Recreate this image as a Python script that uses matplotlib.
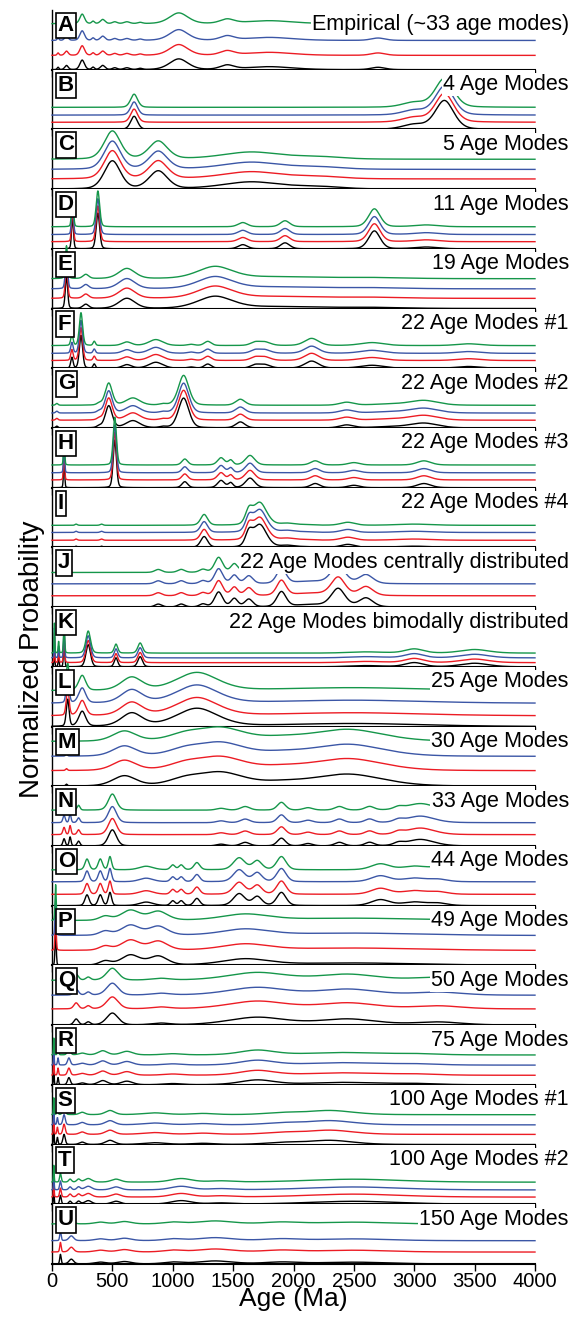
import numpy as np
import matplotlib
matplotlib.use('Agg')
import matplotlib.pyplot as plt

plt.rcParams['font.family'] = ['Liberation Sans', 'DejaVu Sans']

AGE_MAX = 4000
COLORS = ['black', '#ec1c24', '#3b56a6', '#15964a']  # black, red, blue, green

LETTERS = list("ABCDEFGHIJKLMNOPQRSTU")
TITLES = ["Empirical (~33 age modes)", "4 Age Modes", "5 Age Modes", "11 Age Modes",
          "19 Age Modes", "22 Age Modes #1", "22 Age Modes #2", "22 Age Modes #3",
          "22 Age Modes #4", "22 Age Modes centrally distributed",
          "22 Age Modes bimodally distributed", "25 Age Modes", "30 Age Modes",
          "33 Age Modes", "44 Age Modes", "49 Age Modes", "50 Age Modes",
          "75 Age Modes", "100 Age Modes #1", "100 Age Modes #2", "150 Age Modes"]

# vertical offsets (fraction of panel height) of black, red, blue, green curves
OFFSETS = [[0, .24, .49, .77], [0, .12, .24, .37], [0, .17, .33, .50], [0, .12, .24, .37],
           [0, .17, .33, .50], [0, .13, .25, .38], [0, .13, .25, .38], [0, .13, .25, .38],
           [0, .12, .25, .37], [0, .19, .39, .58], [0, .07, .15, .23], [0, .18, .39, .60],
           [0, .26, .50, .75], [0, .19, .39, .60], [0, .19, .40, .60], [0, .25, .50, .75],
           [0, .27, .50, .75], [0, .16, .33, .50], [0, .17, .33, .50], [0, .12, .24, .37],
           [0, .20, .39, .67]]

# age modes: (age Ma, width Ma, peak height as fraction of panel)
MODES_A = [(50, 8, .04), (120, 15, .07), (250, 20, .16), (340, 12, .04), (420, 20, .07),
           (520, 20, .03), (620, 25, .03), (730, 20, .02), (1050, 80, .18), (1450, 60, .07),
           (1800, 200, .05), (2700, 60, .04)]
MODES_B = [(680, 30, .22), (3000, 100, .08), (3250, 80, .48)]
MODES_C = [(500, 70, .47), (880, 80, .30), (1650, 250, .12), (2200, 200, .04)]
MODES_D = [(170, 8, .55), (380, 15, .60), (1580, 40, .07), (1930, 40, .10), (2670, 50, .30),
           (3100, 100, .03)]
MODES_E = [(120, 10, .55), (280, 25, .07), (620, 70, .17), (1350, 150, .20), (1850, 300, .03),
           (2600, 300, .02)]
MODES_F = [(165, 10, .18), (240, 14, .55), (350, 10, .07), (620, 40, .06), (860, 60, .10),
           (1150, 30, .02), (1290, 30, .07), (1680, 40, .05), (1760, 50, .06), (2150, 60, .12),
           (2650, 100, .05), (3450, 100, .03)]
MODES_G = [(40, 10, .03), (390, 20, .03), (470, 30, .37), (670, 60, .12), (920, 30, .02),
           (1090, 45, .50), (1560, 40, .10), (2440, 60, .05), (2800, 150, .02), (3080, 120, .08)]
MODES_H = [(100, 5, .50), (520, 14, .80), (1100, 25, .10), (1400, 30, .12), (1480, 20, .08),
           (1640, 40, .16), (2180, 40, .07), (2500, 50, .04), (3080, 60, .07)]
MODES_I = [(200, 10, .02), (410, 12, .02), (1260, 30, .18), (1630, 30, .20), (1720, 60, .38),
           (1950, 60, .03), (2100, 60, .01), (2450, 60, .05), (3000, 150, .02)]
MODES_J = [(880, 30, .05), (1070, 30, .05), (1250, 30, .05), (1380, 35, .25), (1510, 30, .14),
           (1630, 35, .13), (1900, 40, .25), (2150, 150, .04), (2370, 60, .30), (2600, 60, .15)]
MODES_K = [(20, 3, .50), (55, 4, .20), (100, 5, .50), (300, 20, .37), (530, 15, .15),
           (730, 20, .17), (2600, 150, .02), (3000, 80, .07), (3500, 120, .06)]
MODES_L = [(130, 12, .45), (250, 30, .25), (660, 90, .22), (1200, 180, .30), (2500, 600, .05)]
MODES_M = [(120, 8, .03), (600, 100, .17), (1100, 150, .10), (1400, 200, .22), (1900, 200, .05),
           (2450, 300, .20)]
MODES_N = [(100, 10, .12), (150, 8, .15), (220, 12, .08), (500, 35, .27), (1400, 40, .03),
           (1600, 40, .06), (1900, 35, .13), (2120, 40, .04), (2380, 40, .06), (2630, 40, .06),
           (2870, 40, .04), (3050, 120, .11)]
MODES_O = [(290, 18, .18), (400, 18, .18), (480, 14, .22), (780, 60, .06), (1000, 20, .08),
           (1070, 20, .08), (1200, 25, .12), (1550, 50, .20), (1700, 40, .15), (1900, 40, .22),
           (2720, 80, .10), (3000, 100, .06), (3200, 80, .04)]
MODES_P = [(30, 5, .60), (440, 50, .07), (650, 80, .17), (880, 80, .15), (1600, 200, .10),
           (2500, 600, .04)]
MODES_Q = [(200, 20, .10), (300, 20, .05), (500, 50, .20), (900, 80, .03), (1700, 250, .13),
           (2450, 250, .10), (3200, 200, .05)]
MODES_R = [(15, 3, .30), (50, 5, .12), (140, 12, .12), (250, 30, .03), (420, 40, .07),
           (620, 50, .06), (1000, 80, .02), (1700, 150, .08), (2400, 300, .04), (3000, 200, .02)]
MODES_S = [(15, 3, .30), (45, 5, .12), (100, 10, .17), (250, 25, .04), (480, 40, .07),
           (850, 100, .03), (1250, 100, .02), (1900, 150, .03), (2300, 200, .07)]
MODES_T = [(15, 3, .30), (70, 7, .15), (150, 12, .05), (220, 15, .05), (300, 30, .06),
           (530, 40, .05), (1070, 90, .06), (1400, 100, .02), (2500, 400, .05)]
MODES_U = [(70, 6, .16), (160, 20, .08), (400, 50, .03), (600, 60, .04), (1000, 80, .03),
           (1350, 150, .05), (1900, 150, .03), (2500, 300, .03)]

MODES = [MODES_A, MODES_B, MODES_C, MODES_D, MODES_E, MODES_F, MODES_G, MODES_H, MODES_I,
         MODES_J, MODES_K, MODES_L, MODES_M, MODES_N, MODES_O, MODES_P, MODES_Q, MODES_R,
         MODES_S, MODES_T, MODES_U]


def density(x, modes):
    """pseudo-Voigt peaks, sharp top with longer tails like the KDE curves"""
    y = np.zeros_like(x)
    for mu, w, h in modes:
        z = (x - mu) / w
        y += h * (0.7 * np.exp(-0.5 * z * z) + 0.3 / (1 + z * z))
    return y


W, H = 577, 1319
fig = plt.figure(figsize=(W / 100, H / 100), dpi=100)
left, right = 52 / W, 535 / W
top_px, bot_px = 10, 1264
n = len(LETTERS)
ph = (bot_px - top_px) / n
x = np.linspace(0, AGE_MAX, 2000)

for i in range(n):
    y0 = 1 - (top_px + (i + 1) * ph) / H
    ax = fig.add_axes([left, y0, right - left, ph / H])
    base = density(x, MODES[i])
    for k in range(4):
        ax.plot(x, OFFSETS[i][k] + base, color=COLORS[k], lw=1.0, clip_on=False, zorder=2 + k)
    ax.set_xlim(0, AGE_MAX)
    ax.set_ylim(0, 1)
    ax.set_yticks([])
    ax.set_xticks(np.arange(0, 4001, 500))
    for s in ['top', 'right']:
        ax.spines[s].set_visible(False)
    ax.spines['bottom'].set_linewidth(1.5)
    ax.spines['left'].set_linewidth(1.0)
    ax.tick_params(axis='x', direction='out', length=5, width=1, labelsize=14.5, pad=1)
    if i < n - 1:
        ax.tick_params(labelbottom=False)
    ax.text(0.012, 0.74, LETTERS[i], transform=ax.transAxes, fontsize=16, fontweight='bold',
            ha='left', va='center', zorder=20,
            bbox=dict(boxstyle='square,pad=0.1', fc='white', ec='black', lw=1.2))
    ax.text(1.07, 0.75, TITLES[i], transform=ax.transAxes, fontsize=15.5, ha='right',
            va='center', zorder=20, clip_on=False,
            bbox=dict(boxstyle='square,pad=0.05', fc='white', ec='none'))
    if i == n - 1:
        ax.set_xlabel("Age (Ma)", fontsize=19, labelpad=-3)

fig.text(0.055, 0.5, "Normalized Probability", rotation=90, fontsize=20, ha='center', va='center')
fig.savefig('out.png', dpi=100)
